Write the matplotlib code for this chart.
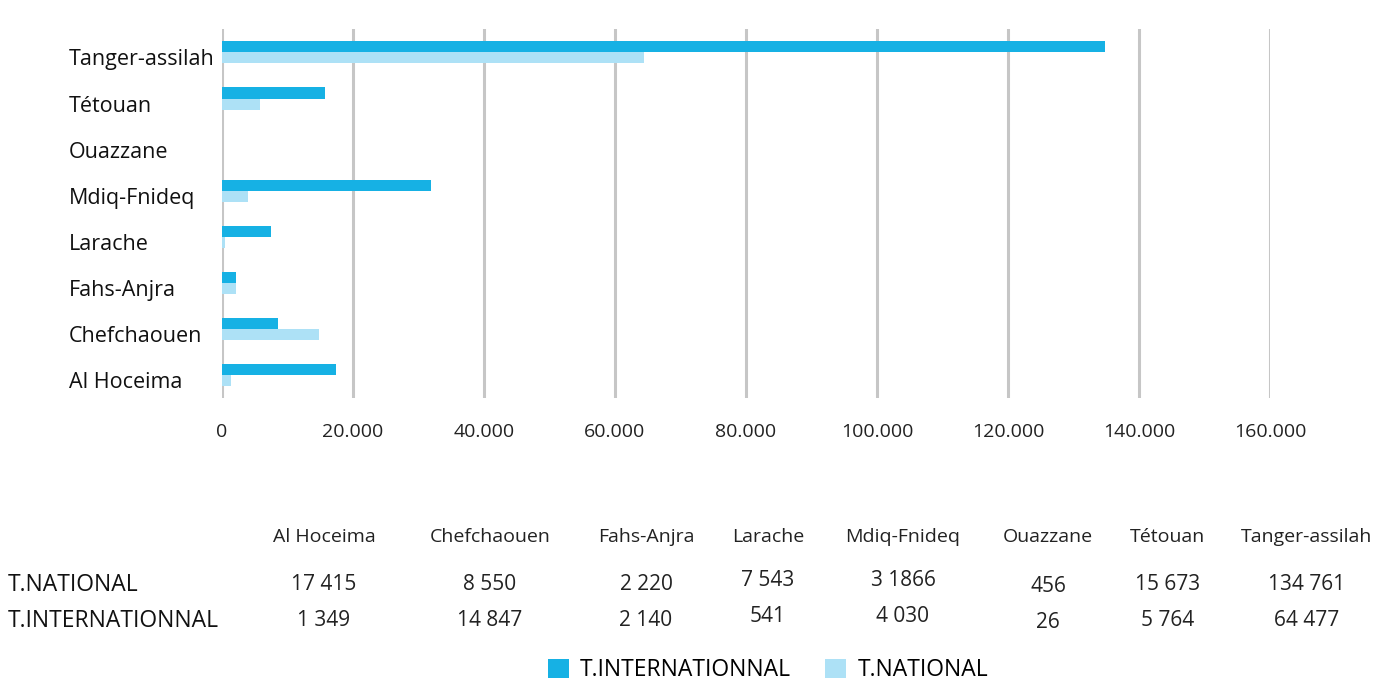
import matplotlib.pyplot as plt
import matplotlib.transforms as mtransforms
import numpy as np

plt.rcParams['font.family'] = ['Open Sans', 'DejaVu Sans']

# provinces, bottom to top as drawn
provinces = ["Al Hoceima", "Chefchaouen", "Fahs-Anjra", "Larache",
             "Mdiq-Fnideq", "Ouazzane", "Tétouan", "Tanger-assilah"]

# bar lengths as shown in the chart (Ouazzane has no visible bars)
dark_vals = [17415, 8550, 2220, 7543, 31866, 0, 15673, 134761]
light_vals = [1349, 14847, 2140, 541, 4030, 0, 5764, 64477]

# table under the chart
national_txt = ["17 415", "8 550", "2 220", "7 543", "3 1866", "456", "15 673", "134 761"]
international_txt = ["1 349", "14 847", "2 140", "541", "4 030", "26", "5 764", "64 477"]

xticks = [0, 20000, 40000, 60000, 80000, 100000, 120000, 140000, 160000]
xtick_labels = ["0", "20.000", "40.000", "60.000", "80.000", "100.000", "120.000", "140.000", "160.000"]

dark = "#16b1e4"
light = "#ade1f6"

fig = plt.figure(figsize=(13.8, 6.82), dpi=100)
ax = fig.add_axes([0.1608, 0.416, 0.7594, 0.541])

y = np.arange(len(provinces))
b1 = ax.barh(y + 0.12, dark_vals, height=0.24, color=dark, label="T.INTERNATIONNAL", zorder=3)
b2 = ax.barh(y - 0.12, light_vals, height=0.24, color=light, label="T.NATIONAL", zorder=3)

ax.set_xlim(0, 160000)
ax.set_ylim(-0.5, 7.5)
ax.set_xticks(xticks)
ax.set_xticklabels(xtick_labels, fontsize=14, color="#222222")
ax.set_yticks(y)
ax.set_yticklabels(provinces, fontsize=15.5, color="#111111", ha="left")
ax.tick_params(axis="y", length=0, pad=110)
ax.tick_params(axis="x", length=0, pad=18)
ax.grid(axis="x", color="#c6c6c6", linewidth=2.2, zorder=0)
for s in ax.spines.values():
    s.set_visible(False)
ax.patch.set_alpha(0)

# category labels sit a little below the bar pair
shift = mtransforms.ScaledTranslation(0, -5 / 100, fig.dpi_scale_trans)
for lab in ax.get_yticklabels():
    lab.set_transform(lab.get_transform() + shift)

# data table
col_x = [324, 490, 646, 768, 903, 1048, 1168, 1307]
col_dy = [0, 0, 0, -4, -4, 1, 0, 0]   # a few columns sit slightly off the row line
for i, name in enumerate(provinces):
    fig.text(col_x[i] / 1380, 1 - 537 / 682, name, ha="center", va="center", fontsize=14, color="#222222")
    fig.text(col_x[i] / 1380, 1 - (585 + col_dy[i]) / 682, national_txt[i], ha="center", va="center",
             fontsize=15, color="#222222")
    fig.text(col_x[i] / 1380, 1 - (621 + col_dy[i]) / 682, international_txt[i], ha="center", va="center",
             fontsize=15, color="#222222")
fig.text(8 / 1380, 1 - 585 / 682, "T.NATIONAL", ha="left", va="center", fontsize=16.5, color="#111111")
fig.text(8 / 1380, 1 - 621 / 682, "T.INTERNATIONNAL", ha="left", va="center", fontsize=16.5, color="#111111")

fig.legend(handles=[b1, b2], loc="center", bbox_to_anchor=(0.5565, 1 - 670 / 682), ncol=2,
           frameon=False, fontsize=16.5, handlelength=0.9, handleheight=0.9, columnspacing=1.5,
           handletextpad=0.5)

fig.savefig("out.png", dpi=100)
